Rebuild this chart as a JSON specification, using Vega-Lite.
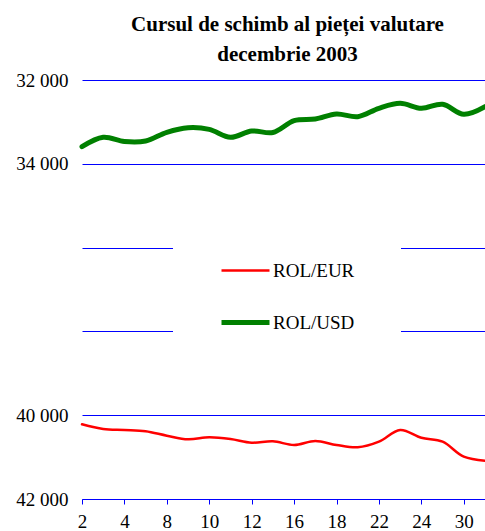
{
  "$schema": "https://vega.github.io/schema/vega-lite/v6.json",
  "autosize": "none",
  "width": 403,
  "height": 419,
  "padding": {"left": 82, "top": 80, "right": 0, "bottom": 32},
  "background": "white",
  "title": {
    "text": ["Cursul de schimb al pieței valutare", "decembrie 2003"],
    "font": "Liberation Serif",
    "fontSize": 21,
    "fontWeight": "bold",
    "color": "black",
    "lineHeight": 30,
    "anchor": "middle",
    "baseline": "bottom",
    "dx": 4,
    "dy": 31,
    "offset": 16
  },
  "config": {"view": {"stroke": null}},
  "data": {
    "values": [
      {"day": 2, "series": "ROL/USD", "value": 33592},
      {"day": 3, "series": "ROL/USD", "value": 33368},
      {"day": 4, "series": "ROL/USD", "value": 33468},
      {"day": 5, "series": "ROL/USD", "value": 33456},
      {"day": 8, "series": "ROL/USD", "value": 33248},
      {"day": 9, "series": "ROL/USD", "value": 33138},
      {"day": 10, "series": "ROL/USD", "value": 33177},
      {"day": 11, "series": "ROL/USD", "value": 33368},
      {"day": 12, "series": "ROL/USD", "value": 33217},
      {"day": 15, "series": "ROL/USD", "value": 33253},
      {"day": 16, "series": "ROL/USD", "value": 32971},
      {"day": 17, "series": "ROL/USD", "value": 32931},
      {"day": 18, "series": "ROL/USD", "value": 32811},
      {"day": 19, "series": "ROL/USD", "value": 32876},
      {"day": 22, "series": "ROL/USD", "value": 32675},
      {"day": 23, "series": "ROL/USD", "value": 32556},
      {"day": 24, "series": "ROL/USD", "value": 32675},
      {"day": 29, "series": "ROL/USD", "value": 32580},
      {"day": 30, "series": "ROL/USD", "value": 32819},
      {"day": 31, "series": "ROL/USD", "value": 32637},
      {"day": 2, "series": "ROL/EUR", "value": 40217},
      {"day": 3, "series": "ROL/EUR", "value": 40329},
      {"day": 4, "series": "ROL/EUR", "value": 40353},
      {"day": 5, "series": "ROL/EUR", "value": 40384},
      {"day": 8, "series": "ROL/EUR", "value": 40489},
      {"day": 9, "series": "ROL/EUR", "value": 40575},
      {"day": 10, "series": "ROL/EUR", "value": 40527},
      {"day": 11, "series": "ROL/EUR", "value": 40568},
      {"day": 12, "series": "ROL/EUR", "value": 40656},
      {"day": 15, "series": "ROL/EUR", "value": 40623},
      {"day": 16, "series": "ROL/EUR", "value": 40711},
      {"day": 17, "series": "ROL/EUR", "value": 40616},
      {"day": 18, "series": "ROL/EUR", "value": 40711},
      {"day": 19, "series": "ROL/EUR", "value": 40766},
      {"day": 22, "series": "ROL/EUR", "value": 40632},
      {"day": 23, "series": "ROL/EUR", "value": 40353},
      {"day": 24, "series": "ROL/EUR", "value": 40537},
      {"day": 29, "series": "ROL/EUR", "value": 40632},
      {"day": 30, "series": "ROL/EUR", "value": 40990},
      {"day": 31, "series": "ROL/EUR", "value": 41086}
    ]
  },
  "mark": {"type": "line", "interpolate": "catmull-rom", "strokeCap": "round", "strokeJoin": "round"},
  "encoding": {
    "x": {
      "field": "day",
      "type": "ordinal",
      "sort": "ascending",
      "scale": {"type": "point", "padding": 0},
      "axis": {
        "values": [2, 4, 8, 10, 12, 16, 18, 22, 24, 30],
        "labelAngle": 0,
        "title": null,
        "grid": false,
        "domainColor": "#0000ff",
        "domainWidth": 1,
        "tickColor": "#0000ff",
        "tickSize": 5,
        "labelFont": "Liberation Serif",
        "labelFontSize": 19,
        "labelColor": "black",
        "labelPadding": 8
      }
    },
    "y": {
      "field": "value",
      "type": "quantitative",
      "scale": {"domain": [32000, 42000], "reverse": true, "zero": false, "nice": false},
      "axis": {
        "values": [32000, 34000, 36000, 38000, 40000, 42000],
        "title": null,
        "grid": true,
        "gridColor": "#0000ff",
        "gridWidth": 1,
        "domain": false,
        "ticks": false,
        "labelFont": "Liberation Serif",
        "labelFontSize": 19,
        "labelColor": "black",
        "labelPadding": 14,
        "labelExpr": "datum.value == 36000 || datum.value == 38000 ? '' : replace(format(datum.value, ','), ',', ' ')"
      }
    },
    "color": {
      "field": "series",
      "type": "nominal",
      "scale": {"domain": ["ROL/EUR", "ROL/USD"], "range": ["#ff0000", "#008000"]},
      "legend": {
        "orient": "none",
        "legendX": 91,
        "legendY": 119,
        "title": null,
        "fillColor": "white",
        "strokeColor": null,
        "padding": 46,
        "symbolType": "stroke",
        "symbolSize": 2304,
        "labelFont": "Liberation Serif",
        "labelFontSize": 19,
        "labelColor": "black",
        "labelOffset": 1,
        "rowPadding": 15
      }
    },
    "strokeWidth": {
      "field": "series",
      "type": "nominal",
      "scale": {"domain": ["ROL/EUR", "ROL/USD"], "range": [2.5, 5]}
    }
  }
}
